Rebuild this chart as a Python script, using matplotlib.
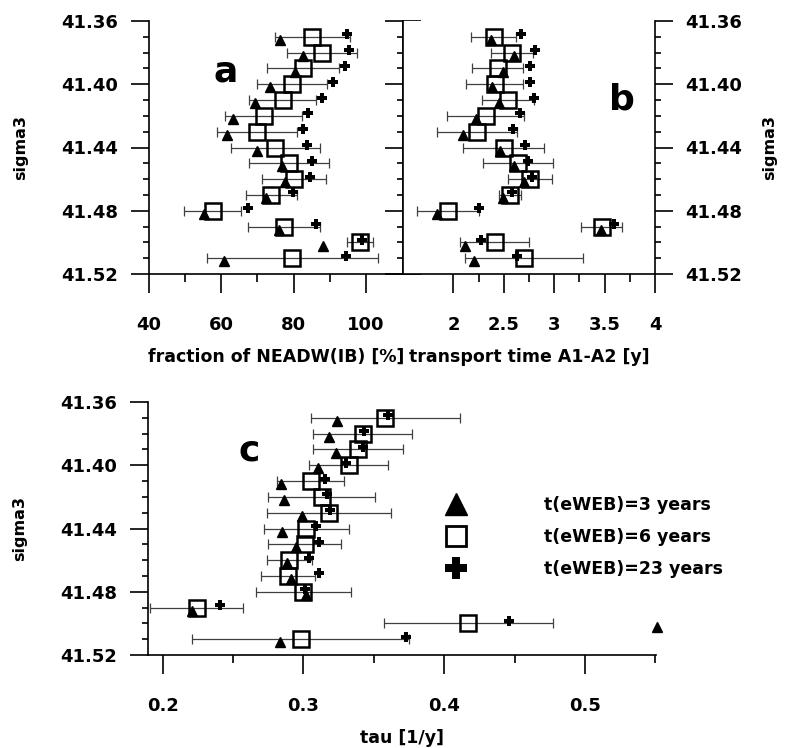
import matplotlib
matplotlib.use("Agg")
import matplotlib.pyplot as plt
from matplotlib.lines import Line2D
from matplotlib.ticker import MultipleLocator, FixedLocator
import numpy as np

plt.rcParams['font.family'] = ['DejaVu Sans']
plt.rcParams['font.weight'] = 'bold'

# sigma3 levels
sigma = [41.37, 41.38, 41.39, 41.40, 41.41, 41.42, 41.43, 41.44,
         41.45, 41.46, 41.47, 41.48, 41.49, 41.50, 41.51]

# a: fraction of NEADW(IB) [%]
frac_3 = [76.2, 82.7, 80.3, 73.5, 69.3, 63.3, 61.5, 70.0, 76.7, 77.7, 72.5, 55.2, 76.0, 88.2, 60.7]
frac_6 = [85.2, 87.9, 82.7, 79.5, 77.0, 71.7, 69.9, 74.9, 78.8, 80.2, 73.9, 57.6, 77.3, 98.3, 79.7]
frac_23 = [94.9, 95.3, 94.3, 91.0, 87.8, 84.1, 82.7, 83.6, 85.0, 84.5, 79.9, 67.5, 86.2, 99.0, 94.6]
frac_err = [10.4, 9.7, 10.0, 9.7, 9.3, 10.6, 11.2, 12.3, 11.0, 8.9, 7.1, 7.8, 10.0, 3.6, 23.7]

# b: transport time A1-A2 [y]
tt_3 = [2.37, 2.60, 2.49, 2.38, 2.45, 2.22, 2.10, 2.46, 2.60, 2.70, 2.49, 1.84, 3.46, 2.12, 2.20]
tt_6 = [2.40, 2.58, 2.44, 2.41, 2.54, 2.32, 2.23, 2.50, 2.64, 2.76, 2.56, 1.95, 3.47, 2.41, 2.70]
tt_23 = [2.67, 2.81, 2.76, 2.76, 2.80, 2.66, 2.59, 2.71, 2.74, 2.78, 2.58, 2.25, 3.59, 2.27, 2.63]
tt_err = [0.225, 0.205, 0.255, 0.283, 0.26, 0.383, 0.396, 0.40, 0.345, 0.214, 0.112, 0.307, 0.205, 0.34, 0.584]

# c: tau [1/y]
tau_3 = [0.324, 0.318, 0.323, 0.310, 0.284, 0.286, 0.299, 0.285, 0.295, 0.288, 0.291, 0.302, 0.221, 0.551, 0.283]
tau_6 = [0.358, 0.342, 0.339, 0.332, 0.305, 0.313, 0.318, 0.302, 0.301, 0.290, 0.289, 0.300, 0.224, 0.417, 0.298]
tau_23 = [0.360, 0.343, 0.342, 0.330, 0.315, 0.317, 0.319, 0.309, 0.311, 0.304, 0.311, 0.301, 0.241, 0.446, 0.373]
tau_err = [0.053, 0.035, 0.032, 0.028, 0.024, 0.038, 0.044, 0.030, 0.026, 0.016, 0.019, 0.034, 0.033, 0.060, 0.077]

labels = ['t(eWEB)=3 years', 't(eWEB)=6 years', 't(eWEB)=23 years']

y = np.array(sigma)
dy_tri = 0.002
dy_plus = -0.0016


def draw(ax, v3, v6, v23, err):
    ax.errorbar(v6, y, xerr=err, fmt='none', ecolor='#404040', elinewidth=0.9,
                capsize=3.6, capthick=0.9, zorder=1)
    ax.plot(v3, y + dy_tri, ls='none', marker='^', ms=7, color='black', clip_on=False, zorder=3)
    ax.plot(v6, y, ls='none', marker='s', ms=11, mfc='none', mec='black', mew=1.8, zorder=2)
    ax.plot(v23, y + dy_plus, ls='none', marker='P', ms=7.5, color='black', mew=0, zorder=4)


def style(ax, left=True, right=True):
    ax.set_ylim(41.52, 41.36)
    ax.yaxis.set_major_locator(FixedLocator([41.36, 41.40, 41.44, 41.48, 41.52]))
    ax.yaxis.set_minor_locator(MultipleLocator(0.01))
    ax.spines['top'].set_visible(False)
    ax.spines['right'].set_visible(right)
    ax.spines['left'].set_visible(left)
    for s in ax.spines.values():
        s.set_linewidth(1.2)
    ax.tick_params(axis='both', which='major', direction='out', width=1.2, labelsize=13)
    ax.tick_params(axis='x', which='major', length=14, pad=16)
    ax.tick_params(axis='x', which='minor', length=6, width=1.2)
    ax.tick_params(axis='y', which='major', length=13, pad=9)
    ax.tick_params(axis='y', which='minor', length=4, width=1.2)
    ax.tick_params(axis='y', left=left, right=right, which='both')


fig = plt.figure(figsize=(7.85, 7.48), dpi=100)
axa = fig.add_axes([149 / 785, 1 - 274 / 748, 254 / 785, 253 / 748])
axb = fig.add_axes([403 / 785, 1 - 274 / 748, 252 / 785, 253 / 748])
axc = fig.add_axes([148 / 785, 1 - 655 / 748, 508 / 785, 253 / 748])

ylab = dict(fontsize=11.5, fontweight='bold')

# panel a
draw(axa, frac_3, frac_6, frac_23, frac_err)
style(axa, left=True, right=True)
axa.set_xlim(40, 110.3)
axa.xaxis.set_major_locator(FixedLocator([40, 60, 80, 100]))
axa.xaxis.set_minor_locator(FixedLocator([50, 70, 90]))
axa.tick_params(axis='y', labelleft=True, labelright=False)
axa.set_yticklabels(['41.36', '41.40', '41.44', '41.48', '41.52'])
axa.set_xlabel('fraction of NEADW(IB) [%]', fontsize=12.5, fontweight='bold', labelpad=10)
axa.set_ylabel('sigma3', labelpad=24, **ylab)
axa.text(0.3, 0.8, 'a', transform=axa.transAxes, fontsize=26, fontweight='bold',
         ha='center', va='center')

# panel b
draw(axb, tt_3, tt_6, tt_23, tt_err)
style(axb, left=True, right=True)
axb.set_xlim(1.5, 4)
axb.xaxis.set_major_locator(FixedLocator([2, 2.5, 3, 3.5, 4]))
axb.xaxis.set_minor_locator(FixedLocator([2.25, 2.75, 3.25, 3.75]))
axb.set_xticklabels(['2', '2.5', '3', '3.5', '4'])
axb.tick_params(axis='y', labelleft=False, labelright=True)
axb.set_yticklabels(['41.36', '41.40', '41.44', '41.48', '41.52'])
axb.yaxis.set_label_position('right')
axb.set_xlabel('transport time A1-A2 [y]', fontsize=12.5, fontweight='bold', labelpad=10)
axb.set_ylabel('sigma3', labelpad=14, rotation=90, **ylab)
axb.text(0.87, 0.69, 'b', transform=axb.transAxes, fontsize=26, fontweight='bold',
         ha='center', va='center')

# panel c
draw(axc, tau_3, tau_6, tau_23, tau_err)
style(axc, left=True, right=False)
axc.set_xlim(0.1895, 0.5505)
axc.xaxis.set_major_locator(FixedLocator([0.2, 0.3, 0.4, 0.5]))
axc.xaxis.set_minor_locator(FixedLocator([0.25, 0.35, 0.45, 0.55]))
axc.set_xticklabels(['0.2', '0.3', '0.4', '0.5'])
axc.set_yticklabels(['41.36', '41.40', '41.44', '41.48', '41.52'])
axc.set_xlabel('tau [1/y]', fontsize=12.5, fontweight='bold', labelpad=10)
axc.set_ylabel('sigma3', labelpad=24, **ylab)
axc.text(0.2, 0.81, 'c', transform=axc.transAxes, fontsize=26, fontweight='bold',
         ha='center', va='center')

handles = [Line2D([], [], ls='none', marker='^', ms=16, color='black'),
           Line2D([], [], ls='none', marker='s', ms=15, mfc='none', mec='black', mew=2),
           Line2D([], [], ls='none', marker='P', ms=16, color='black', mew=0)]
axc.legend(handles, labels, loc='center left', bbox_to_anchor=(0.565, 0.465),
           frameon=False, handletextpad=4.4, labelspacing=0.8, borderpad=0,
           handlelength=1.4, prop={'size': 12.5, 'weight': 'bold'})

fig.savefig('out.png', dpi=100)
